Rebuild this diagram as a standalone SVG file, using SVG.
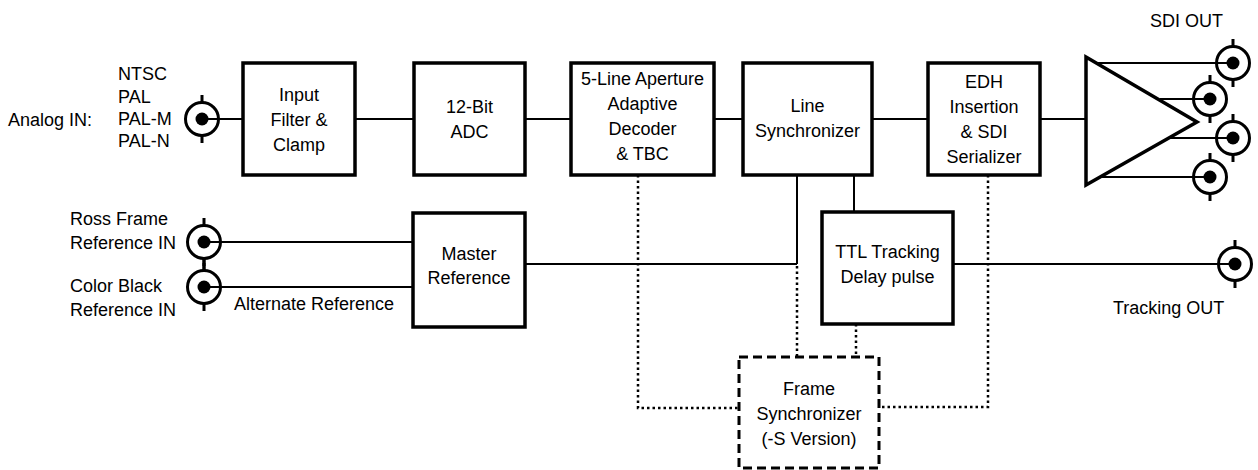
<svg xmlns="http://www.w3.org/2000/svg" width="1258" height="470" viewBox="0 0 1258 470">
<style>
.box{fill:#fff;stroke:#000;stroke-width:3.5}
.dash{fill:#fff;stroke:#000;stroke-width:3;stroke-dasharray:9 5}
.ln{fill:none;stroke:#000;stroke-width:2}
.dot{fill:none;stroke:#000;stroke-width:2.5;stroke-dasharray:2.5 3}
.bnc{fill:none;stroke:#000;stroke-width:3}
.pin{fill:#000}
text{font-family:"Liberation Sans",Arial,sans-serif;font-size:18px;fill:#000}
.c{text-anchor:middle}
</style>
<defs>
<g id="conn">
<circle class="bnc" cx="0" cy="0" r="16.5"/>
<line class="bnc" x1="0" y1="-17" x2="0" y2="-24"/>
<line class="bnc" x1="0" y1="17" x2="0" y2="24"/>
<circle class="pin" cx="0" cy="0" r="6.5"/>
</g>
</defs>
<g id="connectors">
<line class="ln" x1="202" y1="119" x2="243" y2="119"/>
<line class="ln" x1="355" y1="119" x2="414" y2="119"/>
<line class="ln" x1="525" y1="119" x2="571" y2="119"/>
<line class="ln" x1="714" y1="119" x2="743" y2="119"/>
<line class="ln" x1="872" y1="119" x2="928" y2="119"/>
<line class="ln" x1="1040" y1="119" x2="1086" y2="119"/>
<line class="ln" x1="204" y1="242" x2="413" y2="242"/>
<line class="ln" x1="204" y1="287" x2="413" y2="287"/>
<line class="ln" x1="525" y1="264" x2="797" y2="264"/>
<line class="ln" x1="797" y1="175" x2="797" y2="264"/>
<line class="ln" x1="854" y1="175" x2="854" y2="212"/>
<line class="ln" x1="953" y1="264" x2="1235" y2="264"/>
<path class="dot" d="M797 266 V357"/>
<path class="dot" d="M856 324 V357"/>
<path class="dot" d="M638 175 V408 H739"/>
<path class="dot" d="M988 175 V407 H879"/>
</g>
<g id="analog-in">
<use href="#conn" x="202" y="119"/>
<text x="8" y="126">Analog IN:</text>
<text x="118" y="80">NTSC</text>
<text x="118" y="103">PAL</text>
<text x="118" y="125">PAL-M</text>
<text x="118" y="147">PAL-N</text>
</g>
<g id="input-filter">
<rect class="box" x="243" y="63" width="112" height="112"/>
<text class="c" x="299" y="101">Input</text>
<text class="c" x="299" y="126">Filter &amp;</text>
<text class="c" x="299" y="151">Clamp</text>
</g>
<g id="adc">
<rect class="box" x="414" y="63" width="111" height="112"/>
<text class="c" x="469.5" y="113">12-Bit</text>
<text class="c" x="469.5" y="138">ADC</text>
</g>
<g id="decoder">
<rect class="box" x="571" y="63" width="143" height="112"/>
<text class="c" x="642.5" y="85">5-Line Aperture</text>
<text class="c" x="642.5" y="110">Adaptive</text>
<text class="c" x="642.5" y="135">Decoder</text>
<text class="c" x="642.5" y="160">&amp; TBC</text>
</g>
<g id="line-sync">
<rect class="box" x="743" y="63" width="129" height="112"/>
<text class="c" x="807.5" y="112">Line</text>
<text class="c" x="807.5" y="137">Synchronizer</text>
</g>
<g id="edh">
<rect class="box" x="928" y="63" width="112" height="112"/>
<text class="c" x="984" y="88">EDH</text>
<text class="c" x="984" y="113">Insertion</text>
<text class="c" x="984" y="138">&amp; SDI</text>
<text class="c" x="984" y="163">Serializer</text>
</g>
<g id="sdi-out">
<polygon points="1086,57 1197,122 1086,185" fill="#fff" stroke="#000" stroke-width="3.5" stroke-linejoin="miter"/>
<line class="ln" x1="1097" y1="63" x2="1233" y2="63"/>
<line class="ln" x1="1160" y1="99" x2="1210" y2="99"/>
<line class="ln" x1="1170" y1="138" x2="1233" y2="138"/>
<line class="ln" x1="1100" y1="177" x2="1210" y2="177"/>
<use href="#conn" x="1233" y="63"/>
<use href="#conn" x="1210" y="99"/>
<use href="#conn" x="1233" y="138"/>
<use href="#conn" x="1210" y="177"/>
<text x="1150" y="27">SDI OUT</text>
</g>
<g id="ref-inputs">
<line class="bnc" x1="204" y1="258" x2="204" y2="271"/>
<use href="#conn" x="204" y="242"/>
<use href="#conn" x="204" y="287"/>
<text x="70" y="225">Ross Frame</text>
<text x="70" y="249">Reference IN</text>
<text x="70" y="292">Color Black</text>
<text x="70" y="316">Reference IN</text>
<text x="234" y="310">Alternate Reference</text>
</g>
<g id="master-ref">
<rect class="box" x="413" y="213" width="112" height="114"/>
<text class="c" x="469" y="260">Master</text>
<text class="c" x="469" y="284">Reference</text>
</g>
<g id="ttl">
<rect class="box" x="822" y="212" width="131" height="112"/>
<text class="c" x="887.5" y="258">TTL Tracking</text>
<text class="c" x="887.5" y="283">Delay pulse</text>
</g>
<g id="tracking-out">
<use href="#conn" x="1235" y="264"/>
<text x="1113" y="314">Tracking OUT</text>
</g>
<g id="frame-sync">
<rect class="dash" x="739" y="357" width="140" height="111"/>
<text class="c" x="809" y="395">Frame</text>
<text class="c" x="809" y="420">Synchronizer</text>
<text class="c" x="809" y="445">(-S Version)</text>
</g>
</svg>
